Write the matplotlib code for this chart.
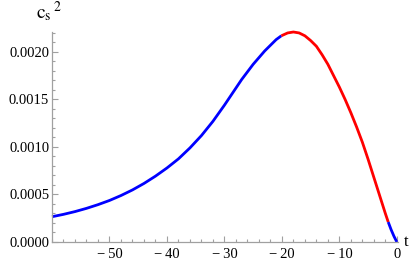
# Sound speed squared vs time, Mathematica-style plot
import numpy as np
import matplotlib.pyplot as plt
from matplotlib.ticker import MultipleLocator, FixedLocator

plt.rcParams['font.family'] = ['Liberation Serif', 'DejaVu Serif']
plt.rcParams['mathtext.fontset'] = 'stix'

# values
t_early = [-60, -58, -56, -54, -52, -50, -48, -46, -44, -42, -40, -38, -36,
           -34, -32, -30, -28, -27, -26, -25, -24, -23, -22, -21, -20.1]
cs2_early = [0.000266, 0.000291, 0.000320, 0.000354, 0.000393, 0.000437,
             0.000489, 0.000548, 0.000616, 0.000693, 0.000779, 0.000875,
             0.000990, 0.00112, 0.00127, 0.00144, 0.00162, 0.00171, 0.00179,
             0.00187, 0.00194, 0.00201, 0.00207, 0.00213, 0.00217]

t_mid = [-20.1, -19, -18, -17, -16, -15, -14, -13, -12, -11, -10, -9, -8,
         -7, -6, -5, -4, -3, -2, -1.5]
cs2_mid = [0.00217, 0.00220, 0.00221, 0.00220, 0.00217, 0.00212, 0.00206,
           0.00197, 0.00187, 0.00175, 0.00163, 0.00150, 0.00136, 0.00121,
           0.00105, 0.00087, 0.00068, 0.00049, 0.00030, 0.00021]

t_late = [-1.5, -1, -0.5, 0]
cs2_late = [0.00021, 0.00013, 0.00006, 0.0]

x_ticks = [-50, -40, -30, -20, -10, 0]
x_labels = ['\u2212\u200950', '\u2212\u200940', '\u2212\u200930',
            '\u2212\u200920', '\u2212\u200910', '0']
y_ticks = [0.0, 0.0005, 0.0010, 0.0015, 0.0020]
y_labels = ['0.0000', '0.0005', '0.0010', '0.0015', '0.0020']

fig = plt.figure(figsize=(4.14, 2.62), dpi=100)
ax = fig.add_axes([52 / 414, 20 / 262, (398 - 52) / 414, (242 - 32) / 262])

ax.plot(t_early, cs2_early, color='#0000ff', lw=2, solid_capstyle='butt',
        solid_joinstyle='round', clip_on=False)
ax.plot(t_mid, cs2_mid, color='#ff0000', lw=2, solid_capstyle='butt',
        solid_joinstyle='round', clip_on=False)
ax.plot(t_late, cs2_late, color='#0000ff', lw=2, solid_capstyle='butt',
        solid_joinstyle='round', clip_on=False)

ax.set_xlim(-60, 0.2)
ax.set_ylim(0, 0.00221)

for side in ['top', 'right']:
    ax.spines[side].set_visible(False)
for side in ['left', 'bottom']:
    ax.spines[side].set_color('#a0a0a0')
    ax.spines[side].set_linewidth(0.9)

ax.xaxis.set_major_locator(FixedLocator(x_ticks))
ax.set_xticklabels(x_labels)
ax.xaxis.set_minor_locator(MultipleLocator(2))
ax.yaxis.set_major_locator(FixedLocator(y_ticks))
ax.set_yticklabels(y_labels)
ax.yaxis.set_minor_locator(MultipleLocator(0.0001))

ax.tick_params(which='both', direction='in', color='#a0a0a0', width=0.8,
               labelsize=10.5, labelcolor='black')
ax.tick_params(which='major', length=4)
ax.tick_params(which='minor', length=2.2)
ax.tick_params(axis='x', pad=4)
ax.tick_params(axis='y', pad=2)

ax.text(1.018, 0.0, 't', transform=ax.transAxes, fontsize=12,
        ha='left', va='center')
# axis label, placed at pixel 36 from the left, above the y axis
ax.text(-0.046, 1.067, r'$\mathrm{c_s}^{\,2}$', transform=ax.transAxes,
        fontsize=14, ha='left', va='baseline')

fig.savefig('out.png', dpi=100)
